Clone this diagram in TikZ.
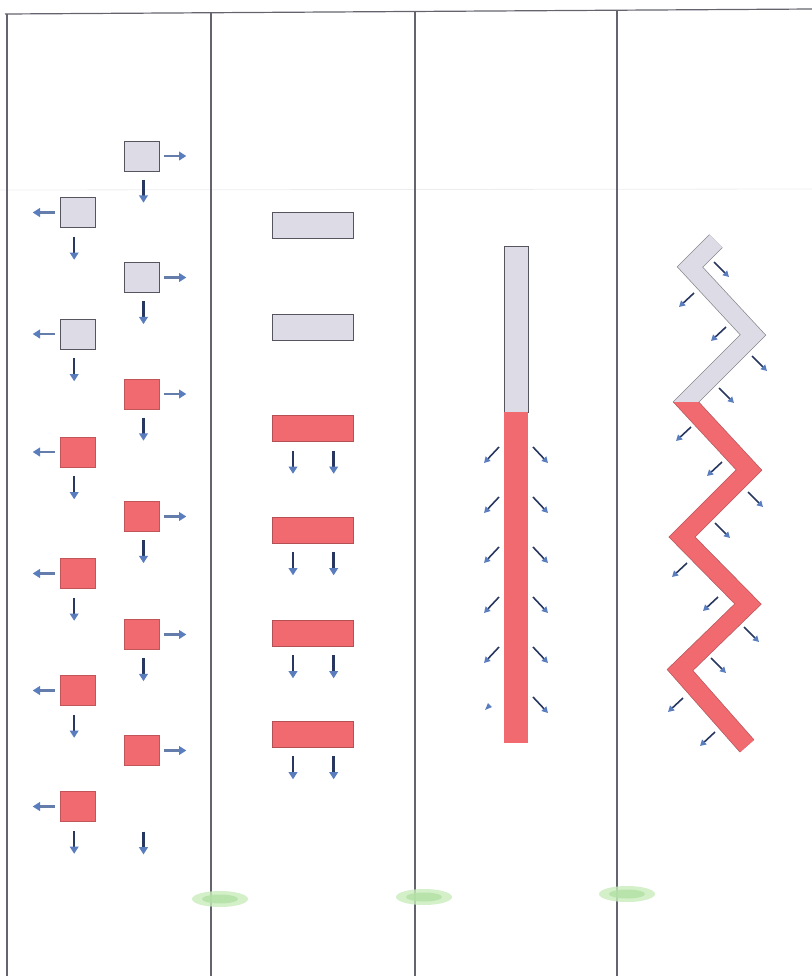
\documentclass[tikz,border=0pt]{standalone}
\usetikzlibrary{arrows.meta}
\definecolor{sqgray}{RGB}{221,219,229}
\definecolor{sqred}{RGB}{240,106,112}
\definecolor{edge}{RGB}{85,85,95}
\definecolor{shaft}{RGB}{40,55,95}
\definecolor{lshaft}{RGB}{100,125,170}
\definecolor{ahead}{RGB}{90,125,190}
\definecolor{frame}{RGB}{100,100,110}
\definecolor{blob}{RGB}{200,236,188}
\definecolor{blobin}{RGB}{178,226,165}
\begin{document}
\begin{tikzpicture}[x=0.75pt,y=-0.75pt,
  sqg/.style={draw=edge,line width=0.6pt,fill=sqgray,inner sep=0pt,outer sep=0pt,minimum width=26.25pt,minimum height=22.5pt},
  sqr/.style={draw=sqred!80!black,line width=0.3pt,fill=sqred,inner sep=0pt,outer sep=0pt,minimum width=26.25pt,minimum height=22.5pt},
  barg/.style={draw=edge,line width=0.6pt,fill=sqgray,inner sep=0pt,outer sep=0pt,minimum width=60.75pt,minimum height=19.5pt},
  barr/.style={draw=sqred!75!black,line width=0.3pt,fill=sqred,inner sep=0pt,outer sep=0pt,minimum width=60.75pt,minimum height=19.5pt},
  varr/.style={draw=shaft,line width=1.9pt,-{Triangle[color=ahead,length=5.5pt,width=6.5pt]}},
  harr/.style={draw=lshaft,line width=1.9pt,-{Triangle[color=ahead,length=5.5pt,width=6.5pt]}},
  darr/.style={draw=shaft,line width=1.2pt,-{Triangle[color=ahead,length=4.5pt,width=4.8pt]}},
  fr/.style={draw=frame,line width=0.9pt}]
\useasboundingbox (0,0) rectangle (812,976);
% frame
\draw[black!7,line width=0.6pt] (0,190) -- (812,189);
\draw[fr] (5,14) -- (812,9);
\draw[fr] (7,13.9) -- (7,976);
\draw[fr] (211,12.8) -- (211,976);
\draw[fr] (415,11.7) -- (415,976);
\draw[fr] (617,10.6) -- (617,976);
% green blobs
\foreach \x/\y in {220/899, 424/897, 627/894}{
  \fill[blob,opacity=0.8] (\x,\y) ellipse (28 and 8);
  \fill[blobin,opacity=0.8] (\x,\y) ellipse (18 and 4.5);
}
% panel 1 right column
\foreach \n/\y/\s in {r1/156/sqg, r2/277.5/sqg, r3/394/sqr, r4/516.5/sqr, r5/634.5/sqr, r6/750.5/sqr}{
  \node[\s] (\n) at (141.5,\y) {};
  \draw[harr] ([xshift=4pt]\n.east) -- ++(22,0);
}
\foreach \n in {r1,r2,r3,r4,r5}{
  \draw[varr] ([xshift=1.5pt,yshift=-6.5pt]\n.south) -- ++(0,23);
}
\draw[varr] ([xshift=1.5pt,yshift=-49.5pt]r6.south) -- ++(0,23);
% panel 1 left column
\foreach \n/\y/\s in {l1/212.5/sqg, l2/334/sqg, l3/452/sqr, l4/573.5/sqr, l5/690.5/sqr, l6/806.5/sqr}{
  \node[\s] (\n) at (77.5,\y) {};
  \draw[harr] ([xshift=-4pt]\n.west) -- ++(-22,0);
  \draw[varr] ([xshift=-2.5pt,yshift=-7pt]\n.south) -- ++(0,23);
}
% panel 2
\foreach \n/\y/\s in {b1/225/barg, b2/327/barg, b3/428.5/barr, b4/530/barr, b5/633/barr, b6/734/barr}{
  \node[\s] (\n) at (313,\y) {};
}
\foreach \n in {b3,b4,b5,b6}{
  \draw[varr] ([xshift=-15pt,yshift=-7pt]\n.south) -- ++(0,23);
  \draw[varr] ([xshift=15.5pt,yshift=-7pt]\n.south) -- ++(0,23);
}
% panel 3
\node[draw=edge,line width=0.6pt,fill=sqgray,inner sep=0pt,outer sep=0pt,minimum width=18pt,minimum height=124.5pt] (cg) at (516,329) {};
\node[fill=sqred,inner sep=0pt,outer sep=0pt,minimum width=18pt,minimum height=248.25pt] (cr) at (516,577.5) {};
\foreach \y in {447,497,547,597,647}{
  \draw[darr] (499,\y) -- ++(-15,16);
}
\fill[ahead] (485,710) -- (492,707) -- (488,703) -- cycle;
\foreach \y in {447,497,547,597,647,697}{
  \draw[darr] (533,\y) -- ++(15,16);
}
% panel 4 zigzag
\def\zig{(716,241) -- (690,267) -- (753,335) -- (686,402) -- (749,470) -- (682,537) -- (748,604) -- (680,670) -- (747,746)}
\draw[edge!70,line width=14.3pt,miter limit=4] \zig;
\draw[sqgray,line width=13.2pt,miter limit=4] \zig;
\begin{scope}
  \clip (620,402) rectangle (812,800);
  \draw[sqred!85!black,line width=14.3pt,miter limit=4] \zig;
  \draw[sqred,line width=13.2pt,miter limit=4] \zig;
\end{scope}
% zigzag arrows
\foreach \a/\b in {714/262, 752/356, 719/388, 748/492, 715/523, 744/627, 711/658}{
  \draw[darr] (\a,\b) -- ++(15,15);
}
\foreach \a/\b in {694/293, 726/327, 691/427, 722/462, 687/563, 718/597, 683/698, 715/732}{
  \draw[darr] (\a,\b) -- ++(-15,14);
}
\end{tikzpicture}
\end{document}
